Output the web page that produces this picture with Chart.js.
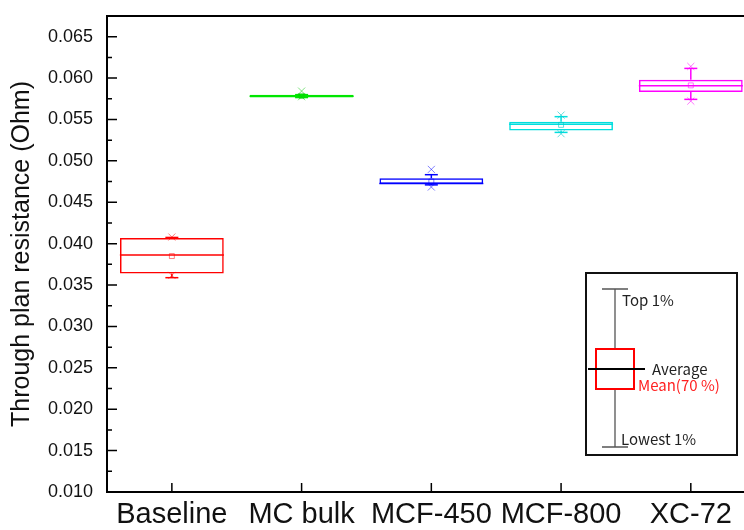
<!DOCTYPE html>
<html>
<head>
<meta charset="utf-8">
<script src="https://cdn.jsdelivr.net/npm/chart.js@4/dist/chart.umd.min.js"></script>
<style>
  html, body { margin: 0; padding: 0; background: #fff; overflow: hidden; }
  #wrap { width: 744px; height: 530px; }
</style>
</head>
<body>
<div id="wrap"><canvas id="boxChart" width="744" height="530"></canvas></div>
<script>
// --- Data ---
const categories = ['Baseline', 'MC bulk', 'MCF-450', 'MCF-800', 'XC-72'];
const q1 = [0.03638, 0.05765, 0.04720, 0.05368, 0.05831];
const q3 = [0.04068, 0.05800, 0.04789, 0.05473, 0.05981];
const median = [0.03862, 0.05782, 0.04728, 0.05441, 0.05908];
const mean = [0.03850, 0.05785, 0.04750, 0.05435, 0.05912];
const whiskerLo = [0.03589, 0.05765, 0.04710, 0.05344, 0.05743];
const whiskerHi = [0.04075, 0.05800, 0.04833, 0.05534, 0.06117];
const minVal = [0.03617, 0.05775, 0.04684, 0.05328, 0.05722];
const maxVal = [0.04080, 0.05843, 0.04897, 0.05553, 0.06141];
const yTicks = [0.010, 0.015, 0.020, 0.025, 0.030, 0.035, 0.040, 0.045, 0.050, 0.055, 0.060, 0.065];

const colors = ['#ff0000', '#00e600', '#0000ff', '#00dede', '#ff00ff'];
const lightColors = ['rgba(255,0,0,0.5)', 'rgba(0,200,0,0.5)', 'rgba(0,0,255,0.5)', 'rgba(0,200,200,0.6)', 'rgba(255,0,255,0.55)'];

const xPos = categories.map((c, i) => i + 1);

// --- Datasets ---
const datasets = [];

// boxes (floating bars)
datasets.push({
    type: 'bar',
    data: xPos.map((x, i) => ({ x: x, y: [q1[i], q3[i]] })),
    backgroundColor: 'rgba(0,0,0,0)',
    borderColor: colors,
    borderWidth: 1.5,
    borderSkipped: false,
    categoryPercentage: 0.8,
    barPercentage: 1.0,
    order: 5
});

// whiskers, one line dataset per category
xPos.forEach((x, i) => {
    datasets.push({
        type: 'line',
        data: [
            { x: x, y: whiskerLo[i] }, { x: x, y: q1[i] }, { x: x, y: null },
            { x: x, y: q3[i] }, { x: x, y: whiskerHi[i] }
        ],
        borderColor: colors[i],
        borderWidth: 1.5,
        pointRadius: 0,
        spanGaps: false,
        order: 4
    });
});

// whisker caps
datasets.push({
    type: 'line',
    showLine: false,
    data: xPos.flatMap((x, i) => [{ x: x, y: whiskerLo[i] }, { x: x, y: whiskerHi[i] }]),
    pointStyle: 'line',
    pointRadius: 6.5,
    pointBorderWidth: 1.5,
    pointBorderColor: colors.flatMap(c => [c, c]),
    order: 3
});

// median lines
datasets.push({
    type: 'line',
    showLine: false,
    data: xPos.map((x, i) => ({ x: x, y: median[i] })),
    pointStyle: 'line',
    pointRadius: 52,
    pointBorderWidth: 1.5,
    pointBorderColor: colors,
    order: 2
});

// mean squares
datasets.push({
    type: 'line',
    showLine: false,
    data: xPos.map((x, i) => ({ x: x, y: mean[i] })),
    pointStyle: 'rect',
    pointRadius: 3.5,
    pointBorderWidth: 1,
    pointBackgroundColor: 'rgba(0,0,0,0)',
    pointBorderColor: lightColors,
    order: 1
});

// min / max crosses
datasets.push({
    type: 'line',
    showLine: false,
    data: xPos.flatMap((x, i) => [{ x: x, y: minVal[i] }, { x: x, y: maxVal[i] }]),
    pointStyle: 'crossRot',
    pointRadius: 5,
    pointBorderWidth: 1,
    pointBorderColor: lightColors.flatMap(c => [c, c]),
    order: 0
});

// --- Frame, inward ticks and the key box ---
const decor = {
    id: 'decor',
    afterDraw(chart) {
        const { ctx, chartArea: a, scales: { x, y } } = chart;
        ctx.save();
        ctx.strokeStyle = '#000';
        ctx.lineWidth = 2;
        ctx.beginPath();
        ctx.moveTo(a.right, a.top);
        ctx.lineTo(a.left, a.top);
        ctx.lineTo(a.left, a.bottom);
        ctx.lineTo(a.right, a.bottom);
        ctx.stroke();

        ctx.lineWidth = 1.5;
        ctx.beginPath();
        yTicks.forEach(v => {
            const py = y.getPixelForValue(v);
            ctx.moveTo(a.left, py);
            ctx.lineTo(a.left + 10, py);
            const m = v + 0.0025;
            if (m < y.max) {
                const pm = y.getPixelForValue(m);
                ctx.moveTo(a.left, pm);
                ctx.lineTo(a.left + 5, pm);
            }
        });
        xPos.forEach(v => {
            const px = x.getPixelForValue(v);
            ctx.moveTo(px, a.bottom);
            ctx.lineTo(px, a.bottom - 9);
        });
        ctx.stroke();

        // key illustration
        ctx.fillStyle = '#fff';
        ctx.fillRect(586, 273, 151, 182);
        ctx.strokeStyle = '#111';
        ctx.lineWidth = 2;
        ctx.strokeRect(586, 273, 151, 182);

        ctx.strokeStyle = '#555';
        ctx.lineWidth = 1.3;
        ctx.beginPath();
        ctx.moveTo(615, 289); ctx.lineTo(615, 447);
        ctx.moveTo(602, 289); ctx.lineTo(628, 289);
        ctx.moveTo(602, 447); ctx.lineTo(628, 447);
        ctx.stroke();

        ctx.fillStyle = '#fff';
        ctx.fillRect(596, 349, 38, 40);
        ctx.strokeStyle = '#ff0000';
        ctx.lineWidth = 2;
        ctx.strokeRect(596, 349, 38, 40);

        ctx.strokeStyle = '#000';
        ctx.lineWidth = 2;
        ctx.beginPath();
        ctx.moveTo(588, 369); ctx.lineTo(645, 369);
        ctx.stroke();

        ctx.font = '15px "Noto Sans CJK JP", "DejaVu Sans", sans-serif';
        ctx.textBaseline = 'middle';
        ctx.textAlign = 'left';
        ctx.fillStyle = '#222';
        ctx.fillText('Top 1%', 622, 300);
        ctx.fillText('Average', 652, 369);
        ctx.fillText('Lowest 1%', 621, 439);
        ctx.fillStyle = '#ff2020';
        ctx.fillText('Mean(70 %)', 638, 385);
        ctx.restore();
    }
};

new Chart(document.getElementById('boxChart'), {
    type: 'bar',
    data: { datasets: datasets },
    options: {
        responsive: false,
        animation: false,
        layout: { autoPadding: false, padding: { top: 16, right: 0, left: 0, bottom: 0 } },
        plugins: {
            legend: { display: false },
            tooltip: { enabled: false }
        },
        scales: {
            x: {
                type: 'linear',
                offset: false,
                min: 0.5,
                max: 5.41,
                afterBuildTicks: scale => { scale.ticks = xPos.map(v => ({ value: v })); },
                afterFit: scale => {
                    scale.height = 38;
                    scale.paddingLeft = 0;
                    scale.paddingRight = 0;
                },
                grid: { display: false, drawTicks: false },
                border: { display: false },
                ticks: {
                    padding: 6,
                    color: '#111',
                    font: { family: '"Liberation Sans", Arial, sans-serif', size: 29 },
                    maxRotation: 0,
                    autoSkip: false,
                    callback: v => categories[v - 1]
                }
            },
            y: {
                min: 0.010,
                max: 0.0675,
                afterBuildTicks: scale => { scale.ticks = yTicks.map(v => ({ value: v })); },
                afterFit: scale => {
                    scale.width = 107;
                    scale.paddingTop = 0;
                    scale.paddingBottom = 0;
                },
                grid: { display: false, drawTicks: false },
                border: { display: false },
                title: {
                    display: true,
                    text: 'Through plan resistance (Ohm)',
                    color: '#111',
                    font: { family: '"Liberation Sans", Arial, sans-serif', size: 25 },
                    padding: { top: 7, bottom: 0 }
                },
                ticks: {
                    padding: 14,
                    color: '#111',
                    font: { family: '"Liberation Sans", Arial, sans-serif', size: 18 },
                    callback: v => v.toFixed(3)
                }
            }
        }
    },
    plugins: [decor]
});
</script>
</body>
</html>
